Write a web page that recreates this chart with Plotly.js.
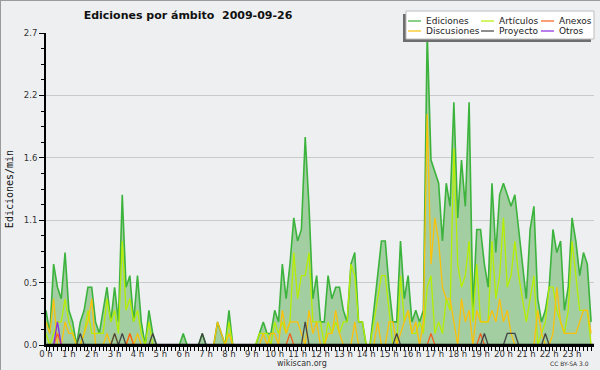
<!DOCTYPE html>
<html>
<head>
<meta charset="utf-8">
<script src="https://cdn.plot.ly/plotly-3.0.1.min.js"></script>
<style>
  html, body { margin: 0; padding: 0; background: #eeeff1; }
  #chart { width: 598px; height: 368px; border: 1px solid #9a9a9a; }
</style>
</head>
<body>
<div id="chart"></div>
<script>
// Edits per minute, one value per 10-minute bin (00:00 ... 23:50)
const ediciones = [
  0.3,0.1,0.7,0.5,0.4,0.8, 0.3,0.2,0,0.2,0.3,0.5,
  0.5,0.2,0.1,0.3,0.5,0.2, 0.5,0.2,1.3,0.5,0.6,0.2,
  0.6,0.2,0,0.3,0.1,0, 0,0,0,0,0,0,
  0.1,0,0,0,0,0.1, 0,0,0,0.2,0.1,0,
  0.3,0,0,0,0,0, 0,0,0.1,0.2,0.1,0.1,
  0.3,0.2,0.7,0.4,0.7,1.1, 0.9,1.0,1.8,1.2,0.4,0.6,
  0.2,0.2,0.6,0.4,0.5,0.5, 0.3,0.2,0.7,0.8,0.2,0.2,
  0,0,0.3,0.6,0.9,0.9, 0.5,0.2,0.2,0.9,0.4,0.6,
  0.2,0.3,0.2,0.3,2.7,1.6, 1.5,1.4,0.9,1.4,1.2,2.1,
  1.1,1.6,1.2,2.1,0.3,1.0, 1.0,0.7,0.5,1.4,0.8,1.3,
  1.4,1.3,1.2,1.3,1.0,0.7, 0.4,1.0,1.2,0.4,0.2,0.3,
  0.5,1.0,0.8,0.9,0.3,0.5, 1.1,0.9,0.6,0.8,0.7,0.2
];
const articulos = [
  0.1,0,0.1,0.2,0.2,0.4, 0.2,0.1,0,0,0.1,0.3,
  0.1,0.1,0.1,0.1,0.4,0.2, 0.3,0.1,0.9,0.3,0.4,0.2,
  0.3,0.1,0,0.2,0,0, 0,0,0,0,0,0,
  0,0,0,0,0,0, 0,0,0,0,0,0,
  0.2,0,0,0,0,0, 0,0,0.1,0.1,0.1,0,
  0.2,0.1,0.2,0.1,0.2,0.8, 0.4,0.6,0.6,0.8,0.2,0.2,
  0.2,0,0.2,0.1,0.2,0.1, 0.2,0.2,0.7,0.6,0.2,0.2,
  0,0,0.2,0.4,0.6,0.6, 0.3,0,0,0.6,0.2,0.3,
  0.1,0.1,0.2,0.1,0.5,0.6, 0.1,0.2,0.1,0.4,0.3,1.7,
  0.7,0.5,0.6,0.9,0.2,0.7, 0.2,0.2,0.2,0.9,0.4,0.6,
  1.1,0.5,0.6,0.9,0.6,0.4, 0.2,0.4,0.6,0,0.1,0.2,
  0.5,0.5,0.3,0.2,0.1,0.3, 0.9,0.6,0.3,0.3,0.3,0
];
const discusiones = [
  0.2,0.1,0.4,0,0,0.2, 0.1,0.1,0,0,0.1,0.2,
  0.4,0,0,0,0.1,0, 0.1,0,0,0,0.1,0,
  0.1,0,0,0,0,0, 0,0,0,0,0,0,
  0,0,0,0,0,0, 0,0,0,0.2,0.1,0,
  0.1,0,0,0,0,0, 0,0,0,0.1,0,0.1,
  0.1,0,0.3,0.1,0.2,0.2, 0.2,0.1,0,0.3,0.1,0.2,
  0,0,0.1,0.1,0.3,0.1, 0,0,0,0.2,0,0,
  0,0,0,0.2,0,0, 0.2,0.2,0,0.1,0.2,0.3,
  0.1,0.2,0,0.2,2.0,0.7, 1.1,0.9,0.5,0.4,0.4,0.2,
  0,0.4,0.2,0.3,0,0.3, 0.2,0.2,0.2,0.3,0.2,0.4,
  0.2,0.3,0.1,0,0,0, 0,0,0,0.3,0.1,0,
  0,0.1,0.5,0.2,0.1,0.1, 0.1,0.1,0.2,0.3,0.3,0.1
];
const anexos = [
  0,0,0,0.1,0,0, 0,0,0,0,0,0,
  0,0,0,0,0,0, 0,0,0,0,0.1,0,
  0,0,0,0,0,0, 0,0,0,0,0,0,
  0,0,0,0,0,0, 0,0,0,0,0,0,
  0,0,0,0,0,0, 0,0,0,0,0,0,
  0,0,0,0,0.1,0, 0,0,0,0,0,0,
  0,0,0,0,0,0, 0,0,0,0,0,0,
  0,0,0,0,0,0, 0,0,0,0,0,0,
  0,0,0,0,0,0.1, 0,0,0,0,0,0,
  0,0,0,0,0,0, 0.1,0,0,0,0,0,
  0,0,0,0,0,0, 0,0,0,0,0,0,
  0,0,0,0,0,0, 0,0,0,0,0,0
];
const proyecto = [
  0,0,0,0,0,0, 0,0,0,0.1,0,0,
  0,0,0,0,0,0, 0.1,0,0.1,0,0,0,
  0,0,0,0,0.1,0, 0,0,0,0,0,0,
  0,0,0,0,0,0.1, 0,0,0,0,0,0,
  0,0,0,0,0,0, 0,0,0,0,0,0,
  0,0,0,0,0,0, 0,0,0.2,0,0,0,
  0,0,0,0,0,0, 0,0,0,0,0,0,
  0,0,0,0,0,0, 0,0,0.1,0,0,0,
  0,0,0,0,0,0, 0,0,0,0,0,0,
  0,0,0,0,0,0, 0,0.1,0,0,0,0,
  0,0.1,0.1,0.1,0,0, 0,0,0,0,0,0.1,
  0,0,0,0,0,0, 0,0,0,0,0,0
];
const otros = [
  0,0,0,0.2,0,0, 0,0,0,0,0,0,
  0,0,0,0,0,0, 0,0,0,0,0,0,
  0,0,0,0,0,0, 0,0,0,0,0,0,
  0,0,0,0,0,0, 0,0,0,0,0,0,
  0,0,0,0,0,0, 0,0,0,0,0,0,
  0,0,0,0,0,0, 0,0,0,0,0,0,
  0,0,0,0,0,0, 0,0,0,0,0,0,
  0,0,0,0,0,0, 0,0,0,0,0,0,
  0,0,0,0,0,0, 0,0,0,0,0,0,
  0,0,0,0,0,0, 0,0,0,0,0,0,
  0,0,0,0,0,0, 0,0,0,0,0,0,
  0,0,0,0,0,0, 0,0,0,0,0,0
];
const hourTicks = [0,1,2,3,4,5,6,7,8,9,10,11,12,13,14,15,16,17,18,19,20,21,22,23];
const hourLabels = ["0 h","1 h","2 h","3 h","4 h","5 h","6 h","7 h","8 h","9 h","10 h","11 h",
                    "12 h","13 h","14 h","15 h","16 h","17 h","18 h","19 h","20 h","21 h","22 h","23 h"];
const yTicks = [0, 0.54, 1.08, 1.62, 2.16, 2.7];
const yLabels = ["0.0","0.5","1.1","1.6","2.2","2.7"];

const seriesNames = ["Ediciones","Artículos","Anexos","Discusiones","Proyecto","Otros"];
const colors = {
  "Ediciones": "#3cb33c",
  "Artículos": "#b6ee00",
  "Anexos": "#f7601c",
  "Discusiones": "#fcc10a",
  "Proyecto": "#444444",
  "Otros": "#8a2be2"
};

// x position of each 10-minute bin, in hours
const hours = ediciones.map((_, i) => i / 6);
const xEnd = 23.96;

const W = 600, H = 370;
const M = {l: 45, r: 7, t: 32, b: 26};
const pw = W - M.l - M.r, ph = H - M.t - M.b;
const px = x => (x - M.l) / pw;      // pixel -> paper x
const py = y => (H - M.b - y) / ph;  // pixel -> paper y

function line(name, y, width) {
  return {
    x: hours, y: y, type: 'scatter', mode: 'lines', name: name,
    line: {color: colors[name], width: width || 1.3},
    hoverinfo: 'skip', showlegend: false
  };
}

const traces = [
  {
    x: hours, y: ediciones, type: 'scatter', mode: 'lines', name: 'Ediciones',
    fill: 'tozeroy', fillcolor: '#a2cea2',
    line: {color: colors["Ediciones"], width: 1.6},
    hoverinfo: 'skip', showlegend: false
  },
  line("Artículos", articulos),
  line("Discusiones", discusiones),
  line("Anexos", anexos),
  line("Proyecto", proyecto),
  line("Otros", otros)
];

const shapes = [
  // baseline drawn over the zero level (the axis line in the original covers it)
  {type: 'line', xref: 'x', yref: 'y', x0: 0, x1: xEnd, y0: 0, y1: 0,
   line: {color: '#000', width: 2.5}, layer: 'above'},
  // legend box with shadow
  {type: 'rect', xref: 'paper', yref: 'paper', x0: px(402), x1: px(590), y0: py(41), y1: py(13),
   fillcolor: '#6e6e6e', line: {width: 0}, layer: 'above'},
  {type: 'rect', xref: 'paper', yref: 'paper', x0: px(405), x1: px(593), y0: py(38), y1: py(10),
   fillcolor: '#ffffff', line: {color: '#bdbdbd', width: 1}, layer: 'above'}
];
const annotations = [];
const legendCols = [407, 480, 540];
const legendRows = [20, 30];
seriesNames.forEach((name, k) => {
  const col = k % 3, row = Math.floor(k / 3);
  const x0 = legendCols[col], y = legendRows[row];
  shapes.push({type: 'line', xref: 'paper', yref: 'paper', x0: px(x0), x1: px(x0 + 13),
               y0: py(y), y1: py(y), line: {color: colors[name], width: 1.2}, layer: 'above'});
  annotations.push({xref: 'paper', yref: 'paper', x: px(x0 + 16), y: py(y), xanchor: 'left', yanchor: 'middle',
                    text: name, showarrow: false,
                    font: {family: 'DejaVu Sans', size: 9, color: '#222'}});
});
annotations.push({xref: 'paper', yref: 'paper', x: px(301), y: py(362), xanchor: 'center', yanchor: 'middle',
                  text: 'wikiscan.org', showarrow: false,
                  font: {family: 'DejaVu Sans', size: 8, color: '#333'}});
annotations.push({xref: 'paper', yref: 'paper', x: px(590), y: py(362), xanchor: 'right', yanchor: 'middle',
                  text: 'CC BY-SA 3.0', showarrow: false,
                  font: {family: 'DejaVu Sans', size: 6, color: '#333'}});

const layout = {
  width: W, height: H,
  margin: M,
  paper_bgcolor: '#eeeff1',
  plot_bgcolor: '#eeeff1',
  showlegend: false,
  title: {
    text: 'Ediciones por ámbito\u00a0\u00a02009-09-26',
    font: {family: 'DejaVu Sans', size: 11, weight: 700, color: '#111'},
    xref: 'container', yref: 'container',
    x: 187 / W, y: 1 - 14 / H, xanchor: 'center', yanchor: 'middle'
  },
  xaxis: {
    range: [0, xEnd],
    tickmode: 'array', tickvals: hourTicks, ticktext: hourLabels,
    ticks: 'outside', ticklen: 4, tickwidth: 1, tickcolor: '#000',
    ticklabelstandoff: -4,
    minor: {dtick: 1 / 6, tick0: 0, ticks: 'outside', ticklen: 4, tickwidth: 1, tickcolor: '#000', showgrid: false},
    showline: true, linecolor: '#000', linewidth: 2,
    showgrid: false, zeroline: false,
    tickfont: {family: 'DejaVu Sans', size: 8.5, color: '#333'},
    fixedrange: true
  },
  yaxis: {
    range: [0, 2.7],
    tickmode: 'array', tickvals: yTicks, ticktext: yLabels,
    ticks: 'outside', ticklen: 5, tickwidth: 1, tickcolor: '#000',
    minor: {dtick: 0.135, tick0: 0, ticks: 'outside', ticklen: 3, tickwidth: 1, tickcolor: '#000', showgrid: false},
    showline: true, linecolor: '#000', linewidth: 2,
    showgrid: true, gridcolor: '#cacaca', gridwidth: 1, zeroline: false,
    tickfont: {family: 'DejaVu Sans', size: 8.5, color: '#333'},
    title: {text: 'Ediciones/min', standoff: 8,
            font: {family: 'DejaVu Sans Mono', size: 10, color: '#111'}},
    fixedrange: true
  },
  shapes: shapes,
  annotations: annotations
};

Plotly.newPlot('chart', traces, layout, {displayModeBar: false, staticPlot: true});
</script>
</body>
</html>
